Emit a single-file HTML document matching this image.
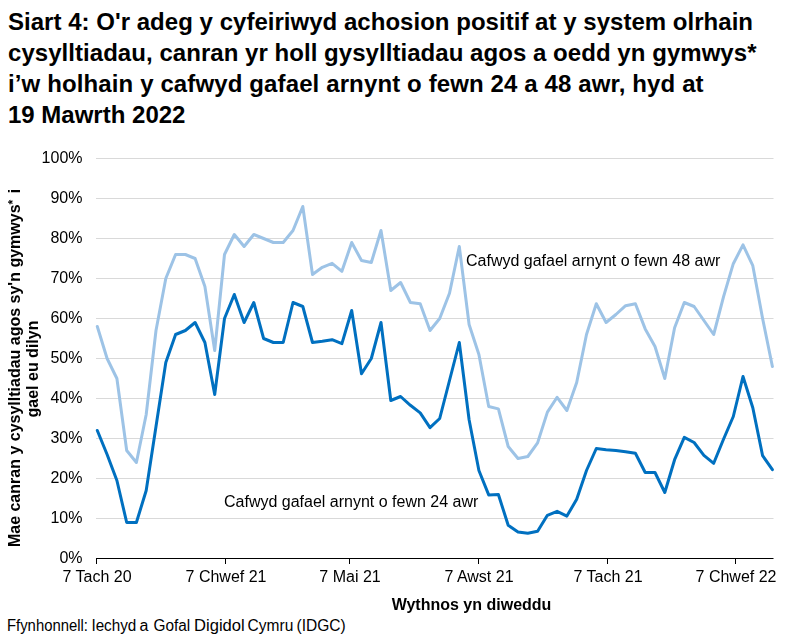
<!DOCTYPE html>
<html><head><meta charset="utf-8"><style>
html,body{margin:0;padding:0;background:#fff;}
#w{position:relative;width:788px;height:643px;overflow:hidden;}
svg{display:block;position:absolute;left:0;top:0;}
#g{will-change:transform;}
text{font-family:"Liberation Sans",sans-serif;fill:#000;}
</style></head><body>
<div id="w">
<svg width="788" height="643" viewBox="0 0 788 643">
<rect width="788" height="643" fill="#fff"/>
<g font-weight="700" font-size="24">
<text x="8" y="30" textLength="745" lengthAdjust="spacing">Siart 4: O'r adeg y cyfeiriwyd achosion positif at y system olrhain</text>
<text x="8" y="60.5" textLength="748.5" lengthAdjust="spacing">cysylltiadau, canran yr holl gysylltiadau agos a oedd yn gymwys*</text>
<text x="8" y="91.5" textLength="695.6" lengthAdjust="spacing">i’w holhain y cafwyd gafael arnynt o fewn 24 a 48 awr, hyd at</text>
<text x="8" y="122.5">19 Mawrth 2022</text>
</g>
<g stroke="#d9d9d9" stroke-width="1"><line x1="96" y1="158.5" x2="773.5" y2="158.5"/><line x1="96" y1="198.5" x2="773.5" y2="198.5"/><line x1="96" y1="238.5" x2="773.5" y2="238.5"/><line x1="96" y1="278.5" x2="773.5" y2="278.5"/><line x1="96" y1="318.5" x2="773.5" y2="318.5"/><line x1="96" y1="358.5" x2="773.5" y2="358.5"/><line x1="96" y1="398.5" x2="773.5" y2="398.5"/><line x1="96" y1="438.5" x2="773.5" y2="438.5"/><line x1="96" y1="478.5" x2="773.5" y2="478.5"/><line x1="96" y1="518.5" x2="773.5" y2="518.5"/></g>
<g stroke="#000" stroke-width="1"><line x1="96" y1="558.5" x2="773.5" y2="558.5"/><line x1="96.5" y1="558" x2="96.5" y2="564"/><line x1="225.5" y1="558" x2="225.5" y2="564"/><line x1="349.5" y1="558" x2="349.5" y2="564"/><line x1="478.5" y1="558" x2="478.5" y2="564"/><line x1="607.5" y1="558" x2="607.5" y2="564"/><line x1="735.5" y1="558" x2="735.5" y2="564"/></g>
<polyline points="97.3,326.5 107.1,358.5 116.9,378.5 126.7,450.5 136.4,462.5 146.2,414.5 156.0,330.5 165.8,278.5 175.6,254.5 185.4,254.5 195.1,258.5 204.9,286.5 214.7,350.5 224.5,254.5 234.3,234.5 244.1,246.5 253.8,234.5 263.6,238.5 273.4,242.5 283.2,242.5 293.0,230.5 302.8,206.5 312.5,274.5 322.3,267.3 332.1,263.3 341.9,271.3 351.7,242.5 361.5,260.5 371.3,262.5 381.0,230.5 390.8,290.5 400.6,282.5 410.4,302.5 420.2,303.7 430.0,330.5 439.7,318.5 449.5,293.3 459.3,246.5 469.1,324.5 478.9,354.5 488.7,406.5 498.4,408.9 508.2,446.5 518.0,458.5 527.8,456.5 537.6,442.9 547.4,412.1 557.1,397.3 566.9,410.5 576.7,382.5 586.5,334.5 596.3,303.7 606.1,322.5 615.9,314.5 625.6,305.7 635.4,303.7 645.2,328.9 655.0,346.5 664.8,378.5 674.6,327.7 684.3,302.5 694.1,306.5 703.9,320.5 713.7,334.5 723.5,296.9 733.3,263.7 743.0,244.9 752.8,265.7 762.6,318.5 772.4,366.5" fill="none" stroke="#9dc3e6" stroke-width="3" stroke-linejoin="round" stroke-linecap="round"/>
<polyline points="97.3,430.5 107.1,454.5 116.9,480.5 126.7,522.5 136.4,522.5 146.2,490.5 156.0,426.5 165.8,362.5 175.6,334.5 185.4,330.5 195.1,322.5 204.9,342.5 214.7,394.5 224.5,318.5 234.3,294.5 244.1,322.5 253.8,302.5 263.6,338.5 273.4,342.5 283.2,342.5 293.0,302.5 302.8,306.5 312.5,342.5 322.3,341.3 332.1,339.7 341.9,343.7 351.7,310.5 361.5,373.7 371.3,358.5 381.0,322.5 390.8,400.5 400.6,396.5 410.4,405.3 420.2,412.9 430.0,427.7 439.7,418.5 449.5,380.5 459.3,342.5 469.1,419.7 478.9,470.5 488.7,494.9 498.4,494.5 508.2,525.3 518.0,532.1 527.8,533.3 537.6,531.3 547.4,515.3 557.1,511.3 566.9,516.1 576.7,499.3 586.5,470.5 596.3,448.5 606.1,449.7 615.9,450.5 625.6,451.7 635.4,453.3 645.2,472.5 655.0,472.5 664.8,492.5 674.6,459.7 684.3,437.3 694.1,442.5 703.9,455.3 713.7,463.3 723.5,439.3 733.3,416.5 743.0,376.5 752.8,407.7 762.6,455.7 772.4,469.7" fill="none" stroke="#0070c0" stroke-width="3" stroke-linejoin="round" stroke-linecap="round"/>
<g font-size="16"><text x="7.0" y="630.6" textLength="80.9" lengthAdjust="spacingAndGlyphs">Ffynhonnell:</text><text x="91.4" y="630.6" textLength="44.9" lengthAdjust="spacingAndGlyphs">Iechyd</text><text x="139.4" y="630.6" textLength="8.9" lengthAdjust="spacingAndGlyphs">a</text><text x="153.5" y="630.6" textLength="36.7" lengthAdjust="spacingAndGlyphs">Gofal</text><text x="194.1" y="630.6" textLength="50.6" lengthAdjust="spacingAndGlyphs">Digidol</text><text x="247.6" y="630.6" textLength="45.7" lengthAdjust="spacingAndGlyphs">Cymru</text><text x="296.5" y="630.6" textLength="49.1" lengthAdjust="spacingAndGlyphs">(IDGC)</text></g>
</svg>
<svg id="g" width="788" height="643" viewBox="0 0 788 643">
<g font-size="16"><text x="82.5" y="162.5" text-anchor="end">100%</text><text x="82.5" y="202.5" text-anchor="end">90%</text><text x="82.5" y="242.5" text-anchor="end">80%</text><text x="82.5" y="282.5" text-anchor="end">70%</text><text x="82.5" y="322.5" text-anchor="end">60%</text><text x="82.5" y="362.5" text-anchor="end">50%</text><text x="82.5" y="402.5" text-anchor="end">40%</text><text x="82.5" y="442.5" text-anchor="end">30%</text><text x="82.5" y="482.5" text-anchor="end">20%</text><text x="82.5" y="522.5" text-anchor="end">10%</text><text x="82.5" y="562.5" text-anchor="end">0%</text><text x="97.0" y="582" text-anchor="middle">7 Tach 20</text><text x="226.0" y="582" text-anchor="middle">7 Chwef 21</text><text x="350.0" y="582" text-anchor="middle">7 Mai 21</text><text x="479.0" y="582" text-anchor="middle">7 Awst 21</text><text x="608.0" y="582" text-anchor="middle">7 Tach 21</text><text x="736.0" y="582" text-anchor="middle">7 Chwef 22</text></g>
<g font-size="16">
<text x="466" y="266">Cafwyd gafael arnynt o fewn 48 awr</text>
<text x="224" y="507">Cafwyd gafael arnynt o fewn 24 awr</text>
</g>
<g font-weight="700" font-size="16">
<text transform="translate(20,368) rotate(-90)" text-anchor="middle">Mae canran y cysylltiadau agos sy'n gymwys<tspan font-size="12" dy="-3">*</tspan><tspan dy="3" dx="2"> i</tspan></text>
<text transform="translate(38.2,369) rotate(-90)" text-anchor="middle">gael eu dilyn</text>
<text x="471.5" y="610" text-anchor="middle">Wythnos yn diweddu</text>
</g>
</svg>
</div>
</body></html>
